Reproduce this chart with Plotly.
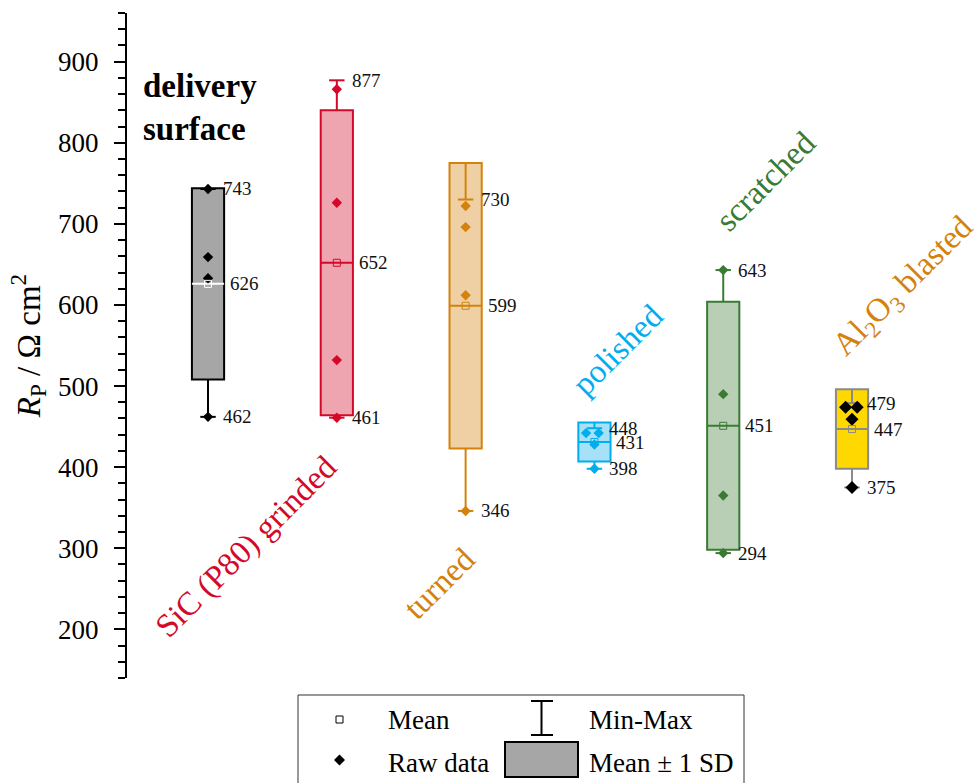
import plotly.graph_objects as go

# ---- data -------------------------------------------------------------
categories = ["delivery<br>surface", "SiC (P80) grinded", "turned", "polished",
              "scratched", "Al<sub>2</sub>O<sub>3</sub> blasted"]
positions = [1, 2, 3, 4, 5, 6]
means = [626, 652, 599, 431, 451, 447]
sds = [118, 188, 176, 24, 153, 49]
mins = [462, 461, 346, 398, 294, 375]
maxs = [743, 877, 730, 448, 643, 479]
raw_values = [
    [743, 659, 633, 462],
    [866, 726, 532, 461],
    [722, 696, 612, 346],
    [442, 442, 428, 398],
    [643, 490, 365, 294],
    [474, 474, 459, 375],
]
y_tickvals = [200, 300, 400, 500, 600, 700, 800, 900]
y_ticktext = ["200", "300", "400", "500", "600", "700", "800", "900"]

# ---- styling ----------------------------------------------------------
line_colors = ["#000000", "#d5082a", "#d4820b", "#00aeef", "#3a7b34", "#8a8a8a"]
fill_colors = ["#a6a6a6", "#eea5af", "#eed0a4", "#a6e1f7", "#b8cfb6", "#ffd800"]
mean_colors = ["#ffffff", "#d5082a", "#d4820b", "#00aeef", "#3a7b34", "#8a8a8a"]
point_colors = ["#000000", "#d5082a", "#d4820b", "#00aeef", "#3a7b34", "#000000"]
label_colors = ["#000000", "#d5082a", "#d4820b", "#00aeef", "#3a7b34", "#d4820b"]
# horizontal spread for coinciding raw points
raw_offsets = [
    [0, 0, 0, 0],
    [0, 0, 0, 0],
    [0, 0, 0, 0],
    [-0.065, 0.033, 0, 0],
    [0, 0, 0, 0],
    [-0.05, 0.04, 0, 0],
]
# category caption placement (axis units) and rotation
label_xy = [(0.48, 844), (1.30, 302), (2.80, 257), (4.18, 544), (5.33, 753), (6.40, 622)]
label_angle = [0, -45, -45, -45, -45, -45]

FONT = "Liberation Serif, Times New Roman, serif"
BOX_W = 0.25
CAP_SIZE = 11

fig = go.Figure()

# boxes: mean +/- 1 SD
fig.add_trace(go.Bar(
    x=positions,
    y=[2 * s for s in sds],
    base=[m - s for m, s in zip(means, sds)],
    width=BOX_W,
    marker=dict(color=fill_colors, line=dict(color=line_colors, width=2)),
    showlegend=False, hoverinfo="skip",
))

for i, p in enumerate(positions):
    top = means[i] + sds[i]
    bot = means[i] - sds[i]
    # whiskers from box edge to min / max
    fig.add_trace(go.Scatter(
        x=[p, p, None, p, p], y=[top, maxs[i], None, bot, mins[i]],
        mode="lines", line=dict(color=line_colors[i], width=2),
        showlegend=False, hoverinfo="skip"))
    # whisker caps
    fig.add_trace(go.Scatter(
        x=[p, p], y=[maxs[i], mins[i]], mode="markers",
        marker=dict(symbol="line-ew", size=CAP_SIZE, color=line_colors[i],
                    line=dict(color=line_colors[i], width=2)),
        showlegend=False, hoverinfo="skip"))
    # mean line across the box
    fig.add_trace(go.Scatter(
        x=[p - BOX_W / 2, p + BOX_W / 2], y=[means[i], means[i]],
        mode="lines", line=dict(color=mean_colors[i], width=2),
        showlegend=False, hoverinfo="skip"))
    # raw data
    fig.add_trace(go.Scatter(
        x=[p + o for o in raw_offsets[i]], y=raw_values[i], mode="markers",
        marker=dict(symbol="diamond", size=10 if i == 5 else 8,
                    color=point_colors[i]),
        showlegend=False, hoverinfo="skip"))
    # mean marker
    fig.add_trace(go.Scatter(
        x=[p], y=[means[i]], mode="markers",
        marker=dict(symbol="square-open", size=7, color=mean_colors[i],
                    line=dict(color=mean_colors[i], width=1)),
        showlegend=False, hoverinfo="skip"))

annotations = []
# value labels for max, mean, min
for i, p in enumerate(positions):
    for val, shift in ((maxs[i], 13), (means[i], 20), (mins[i], 13)):
        annotations.append(dict(
            x=p, y=val, xref="x", yref="y", text=str(val), showarrow=False,
            xanchor="left", yanchor="middle", xshift=shift,
            font=dict(family=FONT, size=19, color="#111111")))

# category captions
for i, name in enumerate(categories):
    lx, ly = label_xy[i]
    if i == 0:
        annotations.append(dict(
            x=lx, y=ly, xref="x", yref="y", text="<b>" + name + "</b>",
            showarrow=False, xanchor="left", yanchor="middle", align="left",
            font=dict(family=FONT, size=33, color=label_colors[i])))
    else:
        annotations.append(dict(
            x=lx, y=ly, xref="x", yref="y", text=name, showarrow=False,
            textangle=label_angle[i], xanchor="center", yanchor="middle",
            font=dict(family=FONT, size=33, color=label_colors[i])))

# ---- key below the plot (pixel placement) ----------------------------
W, H = 978, 783
ML, MR, MT, MB = 127, 0, 13, 105
PW, PH = W - ML - MR, H - MT - MB


def px(x):
    return (x - ML) / PW


def py(y):
    return (H - MB - y) / PH


shapes = [
    dict(type="rect", xref="paper", yref="paper",
         x0=px(298), x1=px(744), y0=py(695), y1=py(800),
         line=dict(color="#333333", width=1), fillcolor="rgba(0,0,0,0)"),
    # mean symbol
    dict(type="rect", xref="paper", yref="paper", xsizemode="pixel", ysizemode="pixel",
         xanchor=px(339.5), yanchor=py(719.5), x0=-3.5, x1=3.5, y0=-3.5, y1=3.5,
         line=dict(color="#000000", width=1), fillcolor="#ffffff"),
    # raw data symbol
    dict(type="path", xref="paper", yref="paper", xsizemode="pixel", ysizemode="pixel",
         xanchor=px(339.5), yanchor=py(760), path="M -5.5 0 L 0 5.5 L 5.5 0 L 0 -5.5 Z",
         line=dict(color="#000000", width=0), fillcolor="#000000"),
    # min-max symbol
    dict(type="line", xref="paper", yref="paper",
         x0=px(541.5), x1=px(541.5), y0=py(701), y1=py(735),
         line=dict(color="#000000", width=2)),
    dict(type="line", xref="paper", yref="paper",
         x0=px(531), x1=px(553), y0=py(701), y1=py(701),
         line=dict(color="#000000", width=2)),
    dict(type="line", xref="paper", yref="paper",
         x0=px(531), x1=px(553), y0=py(735), y1=py(735),
         line=dict(color="#000000", width=2)),
    # SD box symbol
    dict(type="rect", xref="paper", yref="paper",
         x0=px(505), x1=px(578), y0=py(742), y1=py(777),
         line=dict(color="#000000", width=2), fillcolor="#a6a6a6"),
]

for text, x, y in (("Mean", 386, 720), ("Raw data", 386, 763),
                   ("Min-Max", 587, 720), ("Mean ± 1 SD", 587, 763)):
    annotations.append(dict(
        x=px(x), y=py(y), xref="paper", yref="paper", text=text, showarrow=False,
        xanchor="left", yanchor="middle",
        font=dict(family=FONT, size=27, color="#000000")))

fig.update_layout(
    width=W, height=H,
    margin=dict(l=ML, r=MR, t=MT, b=MB, pad=0),
    paper_bgcolor="#ffffff", plot_bgcolor="#ffffff",
    barmode="overlay",
    showlegend=False,
    annotations=annotations,
    shapes=shapes,
    xaxis=dict(visible=False, range=[0.371, 6.978], fixedrange=True),
    yaxis=dict(
        range=[140, 960],
        tickvals=y_tickvals, ticktext=y_ticktext,
        showgrid=False, zeroline=False,
        showline=True, linecolor="#000000", linewidth=2,
        ticks="outside", ticklen=11, tickwidth=2, tickcolor="#000000",
        minor=dict(dtick=20, tick0=0, ticks="outside", ticklen=7, tickwidth=2,
                   tickcolor="#000000", showgrid=False),
        tickfont=dict(family=FONT, size=27, color="#000000"),
        ticklabelstandoff=10,
        title=dict(text="<i>R</i><sub>P</sub> / Ω cm<sup>2</sup>",
                   font=dict(family=FONT, size=33, color="#000000"),
                   standoff=8),
        automargin=False,
    ),
)

fig.write_html("out.html")
